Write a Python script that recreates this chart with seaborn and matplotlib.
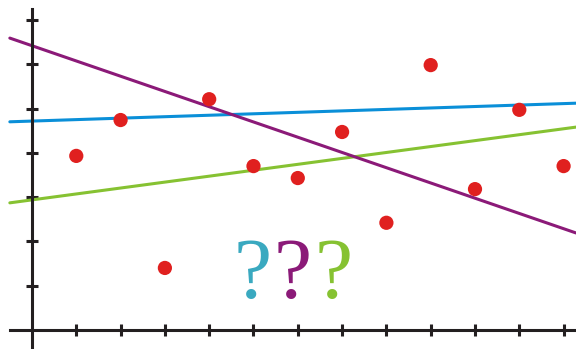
import matplotlib
matplotlib.use("Agg")
import matplotlib.pyplot as plt
import seaborn as sns
import pandas as pd

# data
point_x = [1, 2, 3, 4, 5, 6, 7, 8, 9, 10, 11, 12]
point_y = [3.93, 4.74, 1.40, 5.21, 3.70, 3.43, 4.47, 2.42, 5.98, 3.18, 4.97, 3.70]

line_x = [-0.5, 12.28]
blue_y = [4.70, 5.12]
green_y = [2.87, 4.58]
purple_y = [6.59, 2.19]

x_ticks = list(range(1, 13))
y_ticks = list(range(1, 8))
marks = ["?", "?", "?"]
mark_x = [4.99, 5.89, 6.82]
mark_colors = ["#3aa9c0", "#8b1a78", "#86c232"]

sns.set_style("white")
fig = plt.figure(figsize=(5.76, 3.49), dpi=100)
ax = fig.add_axes([0, 0, 1, 1])

lw = 2.2
sns.lineplot(x=line_x, y=blue_y, color="#0a8fd8", lw=lw, ax=ax)
sns.lineplot(x=line_x, y=green_y, color="#86c232", lw=lw, ax=ax)
sns.lineplot(x=line_x, y=purple_y, color="#8b1a78", lw=lw, ax=ax)
sns.scatterplot(x=point_x, y=point_y, color="#e0201f", s=105, edgecolor="none", ax=ax, zorder=5)

for m, mx, mc in zip(marks, mark_x, mark_colors):
    ax.text(mx, 0.72, m, color=mc, fontsize=62, family="Liberation Serif",
            ha="center", va="baseline")

ax.set_xlim(-0.722, 12.28)
ax.set_ylim(-0.43, 7.45)

for s in ["top", "right"]:
    ax.spines[s].set_visible(False)
ax.spines["left"].set_position(("data", 0))
ax.spines["bottom"].set_position(("data", 0))
ax.spines["left"].set_bounds(-0.43, 7.25)
ax.spines["bottom"].set_bounds(-0.5, 12.28)
for s in ["left", "bottom"]:
    ax.spines[s].set_linewidth(2.2)
    ax.spines[s].set_color("#231f20")
    ax.spines[s].set_zorder(6)

ax.set_xticks(x_ticks)
ax.set_yticks(y_ticks)
ax.set_xticklabels([])
ax.set_yticklabels([])
ax.tick_params(direction="inout", length=9, width=2.2, color="#231f20",
               bottom=True, left=True)
ax.grid(False)

fig.savefig("out.png", dpi=100)
